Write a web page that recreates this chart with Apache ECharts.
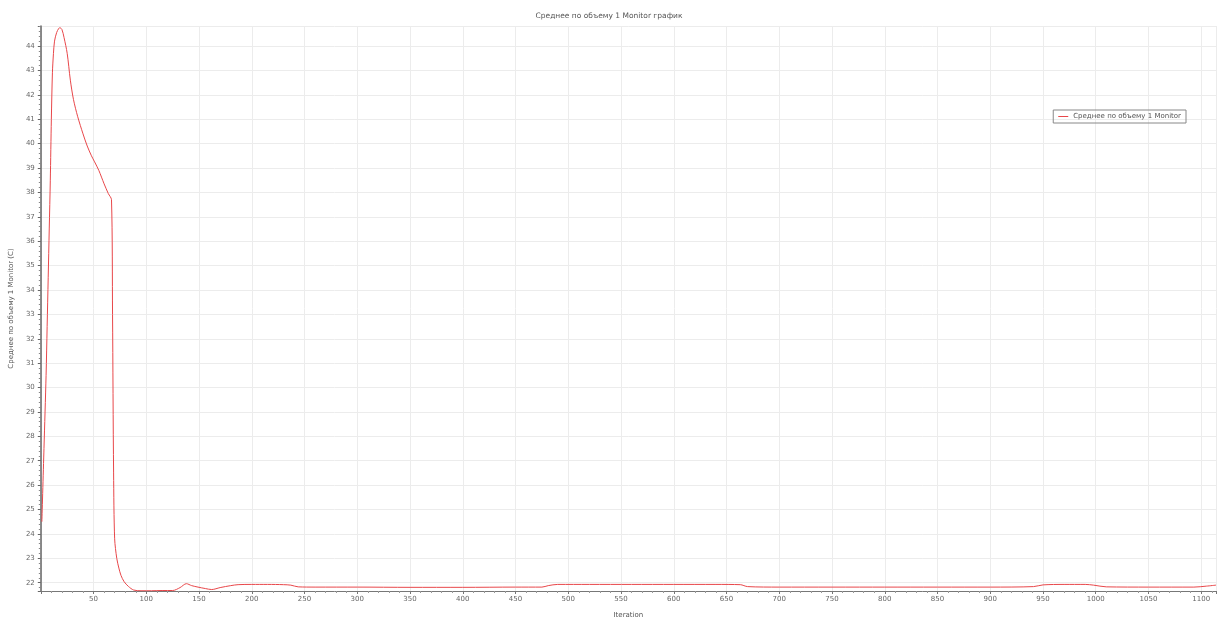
<!DOCTYPE html>
<html>
<head>
<meta charset="utf-8">
<script src="https://cdn.jsdelivr.net/npm/echarts@6/dist/echarts.min.js"></script>
<style>
  html, body { margin: 0; padding: 0; background: #fff; }
  #chart { width: 1218px; height: 624px; }
</style>
</head>
<body>
<div id="chart"></div>
<script>
// Monitor history: iteration numbers and the volume-averaged value (C)
const iterations = [
  1, 3, 5, 6, 7, 8, 9, 10, 11, 12, 13, 15, 17, 18, 20, 22, 25, 28, 31, 35,
  40, 44, 48, 51, 55, 60, 64, 67, 68, 69, 70, 72, 74, 76, 79, 83, 88,
  95, 105, 115, 125, 132, 138, 143, 149, 156, 162, 170, 180, 187, 200, 215,
  230, 237, 244, 260, 300, 350, 400, 450, 475, 481, 490, 520, 560, 600,
  640, 663, 670, 700, 800, 900, 941, 950, 970, 990, 998, 1010, 1050, 1093,
  1105, 1114
];
const values = [
  24.5, 27.5, 30.5, 32.5, 34.5, 36.5, 38.5, 41.0, 42.9, 43.7, 44.2, 44.55, 44.72, 44.75, 44.68, 44.35, 43.7, 42.6, 41.8, 41.1,
  40.4, 39.9, 39.5, 39.25, 38.9, 38.35, 37.95, 37.7, 33.0, 26.5, 23.8, 23.0, 22.6, 22.3, 22.04, 21.85, 21.70,
  21.67, 21.67, 21.68, 21.68, 21.80, 21.96, 21.88, 21.82, 21.76, 21.72, 21.80, 21.88, 21.92, 21.93, 21.93,
  21.92, 21.90, 21.83, 21.82, 21.82, 21.81, 21.81, 21.82, 21.82, 21.88, 21.93, 21.93, 21.93, 21.93,
  21.93, 21.92, 21.84, 21.82, 21.82, 21.82, 21.84, 21.91, 21.93, 21.93, 21.90, 21.83, 21.82, 21.82,
  21.86, 21.9
];

const titleText = 'Среднее по объему 1 Monitor график';
const seriesName = 'Среднее по объему 1 Monitor';
const yAxisName = 'Среднее по объему 1 Monitor (C)';
const xAxisName = 'Iteration';

const points = iterations.map((it, i) => [it, values[i]]);

const chart = echarts.init(document.getElementById('chart'), null, { renderer: 'canvas' });
const labelColor = '#666';
const fontFamily = 'DejaVu Sans, sans-serif';

chart.setOption({
  backgroundColor: '#ffffff',
  animation: false,
  title: {
    text: titleText,
    left: 'center',
    top: 7,
    textStyle: { fontSize: 7.5, fontWeight: 'normal', color: '#555', fontFamily }
  },
  legend: {
    data: [seriesName],
    right: 32,
    top: 110,
    orient: 'vertical',
    itemWidth: 10,
    itemHeight: 8,
    itemGap: 4,
    padding: [3, 5, 3, 5],
    borderColor: '#888',
    borderWidth: 1,
    borderRadius: 0,
    icon: 'path://M0,4 L10,4 L10,5 L0,5 Z',
    textStyle: { fontSize: 7, color: '#555', fontFamily }
  },
  grid: { left: 40, right: 2, top: 26, bottom: 31, containLabel: false },
  xAxis: {
    type: 'value',
    min: 0,
    max: 1114,
    interval: 50,
    name: xAxisName,
    nameLocation: 'middle',
    nameGap: 21,
    nameTextStyle: { fontSize: 7, color: '#555', fontFamily },
    axisLine: { show: true, lineStyle: { color: '#777', width: 1 } },
    axisTick: { show: true, length: 3, inside: false, lineStyle: { color: '#777' } },
    minorTick: { show: true, splitNumber: 5, length: 2, lineStyle: { color: '#999' } },
    axisLabel: {
      fontSize: 7, color: labelColor, fontFamily, margin: 5,
      showMinLabel: false, showMaxLabel: false,
      formatter: (v) => String(Math.round(v))
    },
    splitLine: { show: true, lineStyle: { color: '#ececec', width: 1 } },
    minorSplitLine: { show: false }
  },
  yAxis: {
    type: 'value',
    min: 21.66,
    max: 44.82,
    splitNumber: 23,
    name: yAxisName,
    nameLocation: 'middle',
    nameGap: 24,
    nameRotate: 90,
    nameTextStyle: { fontSize: 7, color: '#555', fontFamily },
    axisLine: { show: true, lineStyle: { color: '#666', width: 1.5 } },
    axisTick: { show: true, length: 3, lineStyle: { color: '#666' } },
    minorTick: { show: true, splitNumber: 5, length: 2, lineStyle: { color: '#888' } },
    axisLabel: {
      fontSize: 7, color: labelColor, fontFamily, margin: 6,
      showMinLabel: false, showMaxLabel: false,
      formatter: (v) => String(Math.round(v))
    },
    splitLine: { show: true, lineStyle: { color: '#ececec', width: 1 } },
    minorSplitLine: { show: false }
  },
  series: [{
    name: seriesName,
    type: 'line',
    data: points,
    smooth: 0.3,
    showSymbol: false,
    lineStyle: { color: '#e8474a', width: 1 },
    itemStyle: { color: '#e8474a' }
  }]
});
</script>
</body>
</html>
